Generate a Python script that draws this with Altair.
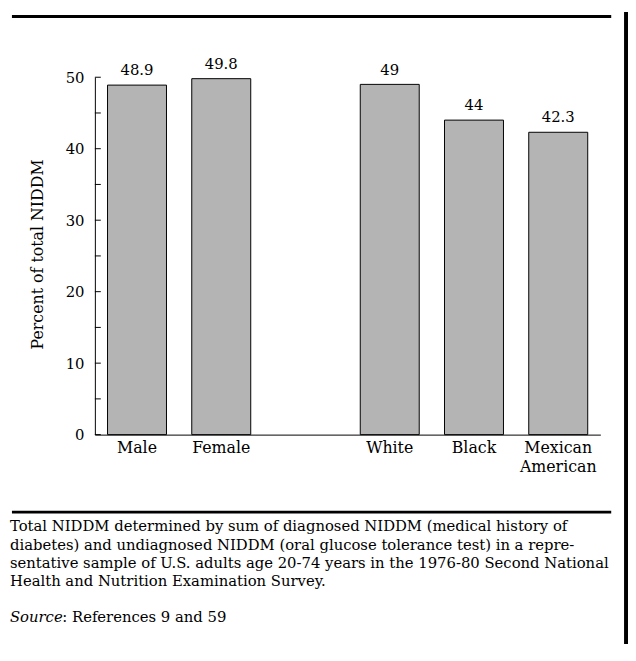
import altair as alt
import pandas as pd

# ---- data -------------------------------------------------------------
categories = ["Male", "Female", " ", "White", "Black", "Mexican American"]
bar_categories = ["Male", "Female", "White", "Black", "Mexican American"]
values = [48.9, 49.8, 49.0, 44.0, 42.3]
value_labels = ["48.9", "49.8", "49", "44", "42.3"]
y_tick_labels = [0, 10, 20, 30, 40, 50]
y_tick_marks = [0, 5, 10, 15, 20, 25, 30, 35, 40, 45, 50]
y_title = "Percent of total NIDDM"
caption_lines = [
    "Total NIDDM determined by sum of diagnosed NIDDM (medical history of",
    "diabetes) and undiagnosed NIDDM (oral glucose tolerance test) in a repre-",
    "sentative sample of U.S. adults age 20-74 years in the 1976-80 Second National",
    "Health and Nutrition Examination Survey.",
]
source_label = "Source"
source_text = ": References 9 and 59"

FONT = "DejaVu Serif"
CAP_FONT = "DejaVu Serif"
CAP_SIZE = 15

df = pd.DataFrame({"group": bar_categories, "value": values, "label": value_labels})
ticks_df = pd.DataFrame({"t": y_tick_marks})
one = pd.DataFrame({"k": [0]})

W, H = 512, 362

x_scale = alt.Scale(domain=categories, paddingInner=0.3, paddingOuter=0.15)
y_scale = alt.Scale(domain=[0, 50], nice=False)

x_axis = alt.Axis(
    title=None,
    ticks=False,
    domainColor="black",
    domainWidth=1,
    labelFont=FONT,
    labelFontSize=16,
    labelColor="black",
    labelPadding=5,
    labelAngle=0,
    labelLineHeight=19,
    labelExpr="datum.value == 'Mexican American' ? ['Mexican', 'American'] : datum.value",
)
y_axis = alt.Axis(
    values=y_tick_labels,
    ticks=False,
    grid=False,
    domainColor="black",
    domainWidth=1,
    labelFont=FONT,
    labelFontSize=15,
    labelColor="black",
    labelPadding=11,
    title=y_title,
    titleFont=FONT,
    titleFontSize=16,
    titleFontWeight="normal",
    titleColor="black",
    titleAngle=270,
    titleX=-58,
    titleY=179,
    titleAlign="center",
    titleBaseline="middle",
)

bars = alt.Chart(df).mark_bar(fill="#b4b4b4", stroke="black", strokeWidth=1).encode(
    x=alt.X("group:N", scale=x_scale, sort=categories, axis=x_axis),
    y=alt.Y("value:Q", scale=y_scale, axis=y_axis),
)

labels = alt.Chart(df).mark_text(
    dy=-10, baseline="alphabetic", font=FONT, fontSize=15, color="black"
).encode(
    x=alt.X("group:N", scale=x_scale, sort=categories, axis=x_axis),
    y=alt.Y("value:Q", scale=y_scale, axis=y_axis),
    text="label:N",
)

ticks = alt.Chart(ticks_df).mark_rule(color="black", strokeWidth=1).encode(
    y=alt.Y("t:Q", scale=y_scale, axis=y_axis),
    x=alt.value(0),
    x2=alt.value(6),
)

top_line = alt.Chart(one).mark_rule(color="black", strokeWidth=3).encode(
    x=alt.value(-84), x2=alt.value(523), y=alt.value(-61.5)
)
bottom_line = alt.Chart(one).mark_rule(color="black", strokeWidth=3).encode(
    x=alt.value(-84), x2=alt.value(523), y=alt.value(440.5)
)
right_bar = alt.Chart(one).mark_rule(color="black", strokeWidth=4).encode(
    x=alt.value(538), y=alt.value(-66), y2=alt.value(574)
)

caption = alt.Chart(one).mark_text(
    align="left", baseline="alphabetic", lineHeight=18.5, font=CAP_FONT,
    fontSize=CAP_SIZE, color="black"
).encode(x=alt.value(-86), y=alt.value(460), text=alt.value(caption_lines))

source_it = alt.Chart(one).mark_text(
    align="left", baseline="alphabetic", font=CAP_FONT, fontSize=CAP_SIZE,
    fontStyle="italic", color="black"
).encode(x=alt.value(-86), y=alt.value(552), text=alt.value(source_label))

source_rest = alt.Chart(one).mark_text(
    align="left", baseline="alphabetic", font=CAP_FONT, fontSize=CAP_SIZE, color="black"
).encode(x=alt.value(-33), y=alt.value(552), text=alt.value(source_text))

chart = (
    alt.layer(bars, labels, ticks, top_line, bottom_line, right_bar, caption, source_it, source_rest)
    .properties(
        width=W,
        height=H,
        padding={"left": 88, "top": 66, "right": 28, "bottom": 212},
        autosize=alt.AutoSizeParams(type="none"),
        background="white",
    )
    .configure_view(stroke=None)
)

chart.save("out.html", embed_options={"renderer": "svg", "actions": False})
